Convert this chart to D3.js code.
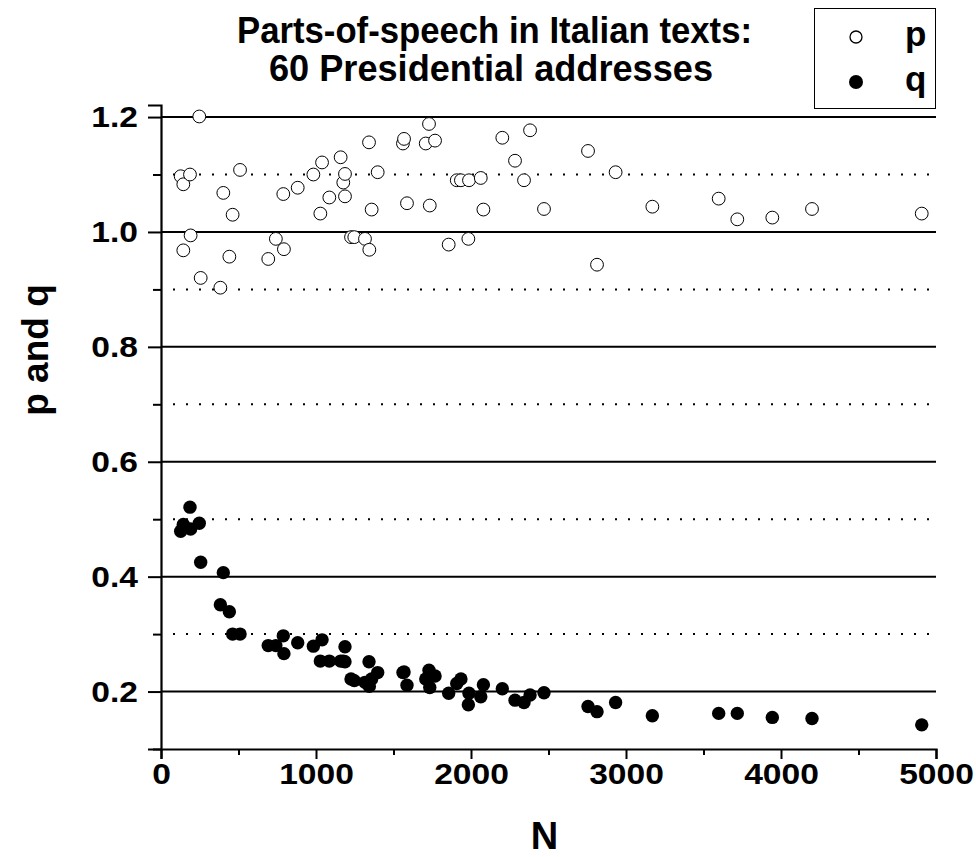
<!DOCTYPE html>
<html>
<head>
<meta charset="utf-8">
<script src="https://cdn.jsdelivr.net/npm/d3@7/dist/d3.min.js"></script>
<style>
  html, body { margin: 0; padding: 0; background: #fff; }
  svg { display: block; font-family: "Liberation Sans", Arial, sans-serif; font-weight: bold; }
</style>
</head>
<body>
<svg id="chart" width="976" height="857"></svg>
<script>
// ---- data ----
const N = [127,144,144,187,191,247,256,383,402,441,462,510,692,741,789,793,882,983,1028,1039,
           1086,1159,1176,1187,1187,1226,1247,1316,1342,1344,1359,1398,1561,1568,1587,1708,1729,1734,1768,1856,
           1908,1935,1983,1987,2063,2080,2202,2284,2342,2381,2471,2755,2813,2933,3170,3598,3718,3944,4200,4908];
const p = [1.097,1.083,0.968,1.100,0.994,1.201,0.920,0.903,1.068,0.957,1.030,1.108,0.953,0.988,1.066,0.970,1.077,1.100,1.032,1.121,
           1.060,1.130,1.086,1.101,1.062,0.991,0.991,0.988,1.156,0.969,1.039,1.104,1.154,1.162,1.050,1.154,1.188,1.046,1.159,0.978,
           1.090,1.090,0.988,1.090,1.094,1.039,1.164,1.124,1.090,1.177,1.040,1.141,0.943,1.104,1.044,1.058,1.022,1.025,1.040,1.032];
const q = [0.479,0.491,0.486,0.521,0.483,0.493,0.425,0.351,0.407,0.339,0.300,0.300,0.280,0.280,0.297,0.266,0.285,0.279,0.253,0.290,
           0.253,0.253,0.253,0.278,0.252,0.222,0.219,0.216,0.252,0.209,0.222,0.233,0.233,0.234,0.211,0.222,0.237,0.207,0.227,0.197,
           0.214,0.222,0.177,0.197,0.191,0.212,0.205,0.185,0.181,0.194,0.198,0.174,0.165,0.181,0.158,0.162,0.162,0.155,0.153,0.142];
const xTicks = [0,1000,2000,3000,4000,5000];
const xMinorTicks = [500,1500,2500,3500,4500];
const yTicks = [0.2,0.4,0.6,0.8,1.0,1.2];
const yMinorTicks = [0.1,0.3,0.5,0.7,0.9,1.1];
const gridSolid = [0.2,0.4,0.6,0.8,1.0,1.2];
const gridDotted = [0.3,0.5,0.7,0.9,1.1];
const titleLines = ["Parts-of-speech in Italian texts:", "60 Presidential addresses"];
const seriesNames = ["p","q"];

// ---- layout ----
const mLeft = 161, mRight = 936, mBottom = 749, mTop = 105;
const svg = d3.select("#chart");
const x = d3.scaleLinear().domain([0,5000]).range([mLeft,mRight]);
const y = d3.scaleLinear().domain([0.1,1.221]).range([mBottom,mTop]);

// gridlines
svg.append("g").selectAll("line").data(gridSolid).join("line")
  .attr("x1", mLeft).attr("x2", mRight)
  .attr("y1", d => y(d)).attr("y2", d => y(d))
  .attr("stroke", "#000").attr("stroke-width", 2);
svg.append("g").selectAll("line").data(gridDotted).join("line")
  .attr("x1", mLeft + 12).attr("x2", mRight)
  .attr("y1", d => y(d)).attr("y2", d => y(d))
  .attr("stroke", "#000").attr("stroke-width", 2)
  .attr("stroke-dasharray", "2,11");

// axes
const tickStretch = 1.12;
const gx = svg.append("g").attr("transform", `translate(0,${mBottom})`)
  .call(d3.axisBottom(x).tickValues(xTicks).tickSize(10).tickPadding(6).tickFormat(d3.format("d")));
const gxm = svg.append("g").attr("transform", `translate(0,${mBottom})`)
  .call(d3.axisBottom(x).tickValues(xMinorTicks).tickSize(6).tickFormat(""));
const gy = svg.append("g").attr("transform", `translate(${mLeft},0)`)
  .call(d3.axisLeft(y).tickValues(yTicks).tickSize(13).tickPadding(10).tickFormat(d3.format(".1f")));
const gym = svg.append("g").attr("transform", `translate(${mLeft},0)`)
  .call(d3.axisLeft(y).tickValues(yMinorTicks).tickSize(8).tickFormat(""));
[gx,gxm,gy,gym].forEach(g => {
  g.select(".domain").attr("stroke-width", 2.2).attr("stroke", "#000");
  g.selectAll(".tick line").attr("stroke-width", 2).attr("stroke", "#000");
  g.selectAll("text").attr("font-family", "Liberation Sans, Arial, sans-serif")
    .attr("font-weight", "bold").attr("font-size", 30).attr("fill", "#000")
    .attr("transform", `scale(${tickStretch},1)`);
});
gym.select(".domain").remove();
gxm.select(".domain").remove();
gx.selectAll("text").attr("dy", "0.71em").attr("y", 14);
gy.selectAll("text").attr("x", -23 / tickStretch);

// points
svg.append("g").selectAll("circle").data(N).join("circle")
  .attr("cx", (d,i) => x(d)).attr("cy", (d,i) => y(p[i])).attr("r", 6.4)
  .attr("fill", "#fff").attr("stroke", "#000").attr("stroke-width", 1);
svg.append("g").selectAll("circle").data(N).join("circle")
  .attr("cx", (d,i) => x(d)).attr("cy", (d,i) => y(q[i])).attr("r", 6.7)
  .attr("fill", "#000");

// title
const titleWidths = [515, 444];
const titleCx = [494.5, 491];
svg.append("g").selectAll("text").data(titleLines).join("text")
  .attr("x", (d,i) => titleCx[i]).attr("y", (d,i) => 43 + i*38)
  .attr("text-anchor", "middle").attr("font-size", 36)
  .attr("textLength", (d,i) => titleWidths[i]).attr("lengthAdjust", "spacingAndGlyphs")
  .text(d => d);

// axis labels
svg.append("text").attr("x", x(2500) - 4).attr("y", 849)
  .attr("text-anchor", "middle").attr("font-size", 38).text("N");
svg.append("text").attr("transform", "translate(48,350) rotate(-90)")
  .attr("text-anchor", "middle").attr("font-size", 37).text("p and q");

// legend
const lg = svg.append("g");
lg.append("rect").attr("x", 814.5).attr("y", 8.5).attr("width", 121).attr("height", 100)
  .attr("fill", "#fff").attr("stroke", "#000").attr("stroke-width", 1);
lg.append("circle").attr("cx", 856).attr("cy", 37).attr("r", 6).attr("fill", "#fff").attr("stroke", "#000").attr("stroke-width", 1.3);
lg.append("circle").attr("cx", 856).attr("cy", 82).attr("r", 7).attr("fill", "#000");
lg.selectAll("text").data(seriesNames).join("text")
  .attr("x", 905).attr("y", (d,i) => 46 + i*45).attr("font-size", 35).text(d => d);
</script>
</body>
</html>
